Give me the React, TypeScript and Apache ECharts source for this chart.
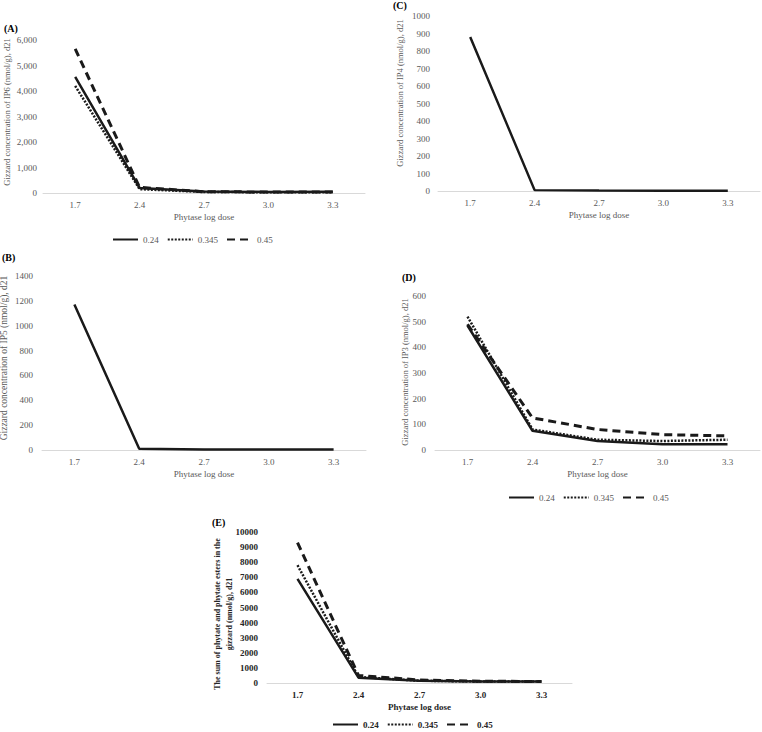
import React, { useEffect, useRef } from "react";
import * as echarts from "echarts";

const categories = ["1.7", "2.4", "2.7", "3.0", "3.3"];
const seriesNames = ["0.24", "0.345", "0.45"];

const ip6_024 = [4550, 200, 60, 40, 50];
const ip6_0345 = [4200, 150, 40, 30, 30];
const ip6_045 = [5650, 220, 50, 40, 40];

const ip5_024 = [1170, 10, 5, 5, 5];

const ip4_024 = [880, 5, 3, 2, 2];

const ip3_024 = [485, 75, 35, 22, 22];
const ip3_0345 = [520, 80, 40, 35, 40];
const ip3_045 = [490, 125, 80, 60, 55];

const sum_024 = [6900, 350, 150, 100, 100];
const sum_0345 = [7800, 400, 150, 100, 100];
const sum_045 = [9300, 500, 200, 120, 100];

const FONT = "Liberation Serif";
const GRAY = "#595959";
const DARK = "#262626";
const LINE = "#1a1a1a";

const styles: any[] = [
  { width: 2.5, type: "solid" },
  { width: 2.5, type: [2, 1.5] },
  { width: 3, type: [8, 5] },
];

export default function App() {
  const ref = useRef<HTMLDivElement>(null);
  useEffect(() => {
    if (!ref.current) return;
    const chart = echarts.init(ref.current, undefined, { renderer: "svg" });

    const grids = [
      { left: 43, top: 40, width: 322, height: 153 }, // A
      { left: 438, top: 16, width: 322, height: 175 }, // C
      { left: 42, top: 276, width: 324, height: 174 }, // B
      { left: 435, top: 296, width: 325, height: 154 }, // D
      { left: 267, top: 532, width: 305, height: 151 }, // E
    ];
    const yCfg = [
      { max: 6000, interval: 1000, comma: true, margin: 6 },
      { max: 1000, interval: 100, comma: false, margin: 8 },
      { max: 1400, interval: 200, comma: false, margin: 9 },
      { max: 600, interval: 100, comma: false, margin: 9 },
      { max: 10000, interval: 1000, comma: false, margin: 9 },
    ];
    const bold = [false, false, false, false, true];

    const xAxis = grids.map((_, i) => ({
      type: "category",
      gridIndex: i,
      data: categories,
      boundaryGap: true,
      axisTick: { show: false },
      axisLine: { lineStyle: { color: "#d9d9d9", width: 1 } },
      axisLabel: {
        color: bold[i] ? DARK : GRAY,
        fontFamily: FONT,
        fontSize: 9,
        fontWeight: bold[i] ? "bold" : "normal",
        margin: 7,
      },
      name: "Phytase log dose",
      nameLocation: "middle",
      nameGap: 19,
      nameTextStyle: {
        color: bold[i] ? DARK : GRAY,
        fontFamily: FONT,
        fontSize: 9,
        fontWeight: bold[i] ? "bold" : "normal",
      },
    }));

    const yAxis = yCfg.map((c, i) => ({
      type: "value",
      gridIndex: i,
      min: 0,
      max: c.max,
      interval: c.interval,
      axisLine: { show: false },
      axisTick: { show: false },
      splitLine: { show: false },
      axisLabel: {
        color: bold[i] ? DARK : GRAY,
        fontFamily: FONT,
        fontSize: 9,
        fontWeight: bold[i] ? "bold" : "normal",
        margin: c.margin,
        formatter: (v: number) =>
          c.comma ? v.toLocaleString("en-US") : String(v),
      },
    }));

    const mk = (name: string, data: number[], gi: number, si: number) => ({
      type: "line",
      name,
      xAxisIndex: gi,
      yAxisIndex: gi,
      data,
      symbol: "none",
      showSymbol: false,
      lineStyle: { color: LINE, width: styles[si].width, type: styles[si].type, cap: "butt" },
      itemStyle: { color: LINE },
      z: 3 - si,
    });

    const series = [
      mk(seriesNames[0], ip6_024, 0, 0),
      mk(seriesNames[1], ip6_0345, 0, 1),
      mk(seriesNames[2], ip6_045, 0, 2),
      mk(seriesNames[0], ip4_024, 1, 0),
      mk(seriesNames[0], ip5_024, 2, 0),
      mk(seriesNames[0], ip3_024, 3, 0),
      mk(seriesNames[1], ip3_0345, 3, 1),
      mk(seriesNames[2], ip3_045, 3, 2),
      mk(seriesNames[0], sum_024, 4, 0),
      mk(seriesNames[1], sum_0345, 4, 1),
      mk(seriesNames[2], sum_045, 4, 2),
    ];

    const legendBase = (left: number, top: number, b: boolean) => ({
      data: seriesNames,
      left,
      top,
      padding: 0,
      orient: "horizontal",
      itemWidth: 25,
      itemHeight: 10,
      itemGap: 8,
      selectedMode: false,
      itemStyle: { opacity: 0 },
      textStyle: {
        color: b ? DARK : GRAY,
        fontFamily: FONT,
        fontSize: 9,
        fontWeight: b ? "bold" : "normal",
      },
    });

    const yTitle = (text: string, x: number, y: number, b: boolean, size = 9) => ({
      type: "text",
      x,
      y,
      rotation: Math.PI / 2,
      style: {
        text,
        fill: b ? DARK : GRAY,
        fontFamily: FONT,
        fontSize: size,
        fontWeight: b ? "bold" : "normal",
        align: "center",
        verticalAlign: "middle",
        lineHeight: 12,
      },
    });
    const panel = (text: string, x: number, y: number) => ({
      type: "text",
      x,
      y,
      style: {
        text,
        fill: "#000",
        fontFamily: FONT,
        fontSize: 10,
        fontWeight: "bold",
        align: "left",
        verticalAlign: "middle",
      },
    });

    chart.setOption({
      animation: false,
      backgroundColor: "#ffffff",
      grid: grids,
      xAxis,
      yAxis,
      series,
      legend: [
        legendBase(112, 235, false),
        legendBase(508, 493, false),
        legendBase(332, 720, true),
      ],
      graphic: [
        panel("(A)", 4, 28),
        panel("(C)", 393, 5),
        panel("(B)", 2, 257),
        panel("(D)", 402, 277),
        panel("(E)", 212, 522),
        yTitle("Gizzard concentration of IP6 (nmol/g), d21", 7, 112, false, 8.5),
        yTitle("Gizzard concentration of IP4 (nmol/g), d21", 400, 93, false, 8.5),
        yTitle("Gizzard concentration of IP5 (nmol/g), d21", 4, 358, false, 9.5),
        yTitle("Gizzard concentration of IP3 (nmol/g), d21", 405, 372, false, 8.5),
        yTitle(
          "The sum of phytate and phytate esters in the\ngizzard (nmol/g), d21",
          223,
          614,
          true,
          8
        ),
      ],
    });
    return () => chart.dispose();
  }, []);
  return (
    <div
      ref={ref}
      style={{ position: "fixed", left: 0, top: 0, width: 762, height: 732, background: "#fff" }}
    />
  );
}
